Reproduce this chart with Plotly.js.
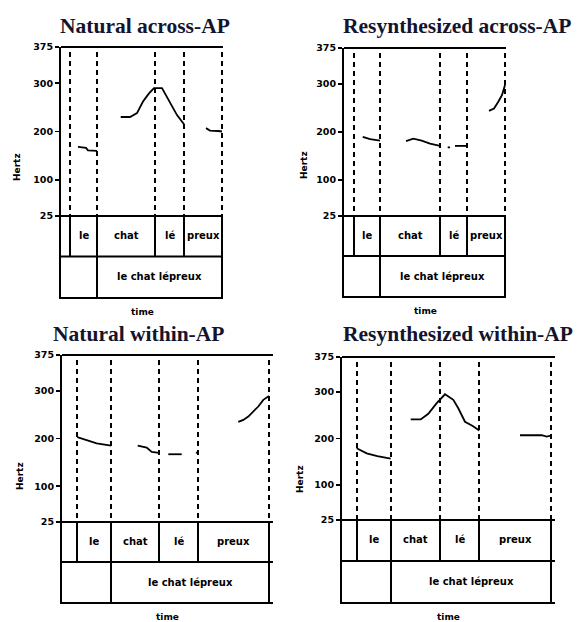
<!DOCTYPE html>
<html>
<head>
<meta charset="utf-8">
<script src="https://cdn.plot.ly/plotly-3.0.1.min.js"></script>
<style>html,body{margin:0;padding:0;background:#fff;}#chart{width:577px;height:622px;}</style>
</head>
<body>
<div id="chart"></div>
<script>
// ---------------- DATA ----------------
const panelTitles = ['Natural across-AP', 'Resynthesized across-AP', 'Natural within-AP', 'Resynthesized within-AP'];
const wordLabels = ['', 'le', 'chat', 'lé', 'preux'];
const phraseLabels = ['', 'le chat lépreux'];
const yTickVals = [25, 100, 200, 300, 375];
const yAxisLabel = 'Hertz';
const xAxisLabel = 'time';

// Natural across-AP
const nacWordBounds = [0, 0.045, 0.18, 0.47, 0.615, 0.805];
const nacPhraseBounds = [0, 0.18, 0.805];
const nacTime = [0.085, 0.125, 0.135, 0.18, null, 0.2985, 0.345, 0.38, 0.41, 0.44, 0.465, 0.505, 0.53, 0.555, 0.58, 0.615, null, 0.725, 0.745, 0.785, 0.805];
const nacHz = [168, 166, 161, 160, null, 230, 230, 238, 262, 279, 290, 290, 272, 251, 234, 215, null, 207, 202, 201, 200];

// Resynthesized across-AP
const racWordBounds = [0, 0.05, 0.18, 0.48, 0.615, 0.805];
const racPhraseBounds = [0, 0.18, 0.805];
const racTime = [0.0935, 0.13, 0.18, null, 0.31, 0.3465, 0.3885, 0.43, 0.48, null, 0.5185, 0.53, null, 0.555, 0.615, null, 0.725, 0.75, 0.7715, 0.79, 0.805];
const racHz = [190, 185, 182, null, 181, 186, 182, 176, 171, null, 168, 168, null, 171, 171, null, 244, 249, 263, 277, 298];

// Natural within-AP
const nwiWordBounds = [0, 0.075, 0.245, 0.485, 0.68, 1.035];
const nwiPhraseBounds = [0, 0.245, 1.035];
const nwiTime = [0.0765, 0.1235, 0.1735, 0.245, null, 0.3785, 0.4235, 0.4485, 0.485, null, 0.5315, 0.5985, null, 0.67, 0.68, null, 0.8815, 0.9065, 0.9315, 0.9565, 0.9815, 1.0065, 1.035];
const nwiHz = [203, 197, 190, 185, null, 185, 181, 172, 170, null, 167, 167, null, 171, 169, null, 235, 239, 246, 256, 267, 281, 289];

// Resynthesized within-AP
const rwiWordBounds = [0, 0.075, 0.245, 0.49, 0.685, 1.045];
const rwiPhraseBounds = [0, 0.245, 1.045];
const rwiTime = [0.0735, 0.1235, 0.1765, 0.2435, null, 0.3435, 0.3935, 0.4315, 0.4735, 0.515, 0.5565, 0.5815, 0.615, 0.6535, 0.6865, null, 0.89, 0.9985, 1.0235, 1.045];
const rwiHz = [179, 168, 162, 157, null, 241, 241, 253, 276, 295, 283, 265, 236, 227, 217, null, 207, 207, 204, 206];

// ---------------- LAYOUT (pixel geometry) ----------------
const W = 577, H = 622;
const panels = [
  {time: nacTime, hz: nacHz, words: nacWordBounds, phrase: nacPhraseBounds,
   left: 61, xmax: 0.81, top: 47, mid: 216, bottom: 297,
   title: {x: 145, y: 26, anchor: 'center'}, hertz: {x: 17, y: 167}},
  {time: racTime, hz: racHz, words: racWordBounds, phrase: racPhraseBounds,
   left: 344, xmax: 0.81, top: 48, mid: 216, bottom: 296,
   title: {x: 341, y: 26, anchor: 'left'}, hertz: {x: 304, y: 165}},
  {time: nwiTime, hz: nwiHz, words: nwiWordBounds, phrase: nwiPhraseBounds,
   left: 62, xmax: 1.055, top: 355, mid: 522, bottom: 602,
   title: {x: 138, y: 334, anchor: 'center'}, hertz: {x: 20, y: 476}},
  {time: rwiTime, hz: rwiHz, words: rwiWordBounds, phrase: rwiPhraseBounds,
   left: 342, xmax: 1.065, top: 357, mid: 520, bottom: 602,
   title: {x: 341, y: 334, anchor: 'left'}, hertz: {x: 300, y: 479}}
];
const pxPerSec = 200;

const traces = [];
const layout = {
  width: W, height: H,
  margin: {l: 0, r: 0, t: 0, b: 0},
  paper_bgcolor: '#ffffff', plot_bgcolor: 'rgba(0,0,0,0)',
  showlegend: false,
  shapes: [], annotations: []
};

const tickFont = {family: 'DejaVu Sans', size: 9.5, color: '#000', weight: 'bold'};
const labelFont = {family: 'DejaVu Sans', size: 10, color: '#000', weight: 'bold'};
const titleFont = {family: 'Liberation Serif', size: 21.5, color: '#14142e', weight: 'bold'};
const solid = {color: '#000', width: 2};
const dashed = {color: '#000', width: 2, dash: '5px,4px'};

panels.forEach((p, i) => {
  const xs = i === 0 ? '' : String(i + 1);
  const yp = String(2 * i + 1), yt = String(2 * i + 2);
  const xName = 'x' + xs, ypName = 'y' + (yp === '1' ? '' : yp), ytName = 'y' + yt;
  const xKey = 'xaxis' + xs, ypKey = 'yaxis' + (yp === '1' ? '' : yp), ytKey = 'yaxis' + yt;
  const right = p.left + p.xmax * pxPerSec;

  layout[xKey] = {
    domain: [p.left / W, right / W], range: [0, p.xmax], anchor: ytName,
    showline: true, linecolor: '#000', linewidth: 2, ticks: '', showticklabels: false,
    showgrid: false, zeroline: false, fixedrange: true
  };
  layout[ypKey] = {
    domain: [1 - p.mid / H, 1 - p.top / H], range: [25, 375], anchor: xName,
    tickmode: 'array', tickvals: yTickVals, ticktext: yTickVals.map(String),
    ticks: 'outside', ticklen: 4, tickwidth: 1.5, tickcolor: '#000', tickfont: tickFont,
    showline: true, linecolor: '#000', linewidth: 2, showgrid: false, zeroline: false, fixedrange: true
  };
  layout[ytKey] = {
    domain: [1 - p.bottom / H, 1 - p.mid / H], range: [0, 2], anchor: xName,
    showline: true, linecolor: '#000', linewidth: 2, ticks: '', showticklabels: false,
    showgrid: false, zeroline: false, fixedrange: true
  };

  traces.push({
    type: 'scatter', mode: 'lines', x: p.time, y: p.hz, xaxis: xName, yaxis: ypName,
    line: {color: '#000', width: 1.8}, connectgaps: false, hoverinfo: 'skip'
  });

  // frame lines
  layout.shapes.push({type: 'line', xref: xName + ' domain', yref: ypName + ' domain', x0: 0, x1: 1, y0: 1, y1: 1, line: solid});
  layout.shapes.push({type: 'line', xref: xName + ' domain', yref: ytName + ' domain', x0: 0, x1: 1, y0: 1, y1: 1, line: solid});
  layout.shapes.push({type: 'line', xref: xName + ' domain', yref: ytName, x0: 0, x1: 1, y0: 1, y1: 1, line: solid});

  // word tier boundaries + dashed guides
  p.words.slice(1).forEach(b => {
    layout.shapes.push({type: 'line', xref: xName, yref: ytName, x0: b, x1: b, y0: 1, y1: 2, line: solid});
    layout.shapes.push({type: 'line', xref: xName, yref: ypName + ' domain', x0: b, x1: b, y0: 0.97, y1: 0, line: dashed});
  });
  // phrase tier boundaries
  p.phrase.slice(1).forEach(b => {
    layout.shapes.push({type: 'line', xref: xName, yref: ytName, x0: b, x1: b, y0: 0, y1: 1, line: solid});
  });

  // tier labels
  wordLabels.forEach((w, k) => {
    if (!w) return;
    layout.annotations.push({xref: xName, yref: ytName, x: (p.words[k] + p.words[k + 1]) / 2, y: 1.5,
      text: w, showarrow: false, font: labelFont, yshift: 1});
  });
  phraseLabels.forEach((w, k) => {
    if (!w) return;
    layout.annotations.push({xref: xName, yref: ytName, x: (p.phrase[k] + p.phrase[k + 1]) / 2, y: 0.5,
      text: w, showarrow: false, font: labelFont});
  });

  // titles
  layout.annotations.push({xref: 'paper', yref: 'paper', x: p.title.x / W, y: 1 - p.title.y / H,
    xanchor: p.title.anchor, yanchor: 'middle', text: panelTitles[i], showarrow: false, font: titleFont});
  // Hertz label
  layout.annotations.push({xref: 'paper', yref: 'paper', x: p.hertz.x / W, y: 1 - p.hertz.y / H,
    xanchor: 'center', yanchor: 'middle', text: yAxisLabel, textangle: -90, showarrow: false,
    font: {family: 'DejaVu Sans', size: 9, color: '#000', weight: 'bold'}});
  // time label
  layout.annotations.push({xref: xName + ' domain', yref: 'paper', x: 0.5, y: 1 - (p.bottom + 15) / H,
    xanchor: 'center', yanchor: 'middle', text: xAxisLabel, showarrow: false,
    font: {family: 'DejaVu Sans', size: 9, color: '#000', weight: 'bold'}});
});

Plotly.newPlot('chart', traces, layout, {staticPlot: true, displayModeBar: false});
</script>
</body>
</html>
